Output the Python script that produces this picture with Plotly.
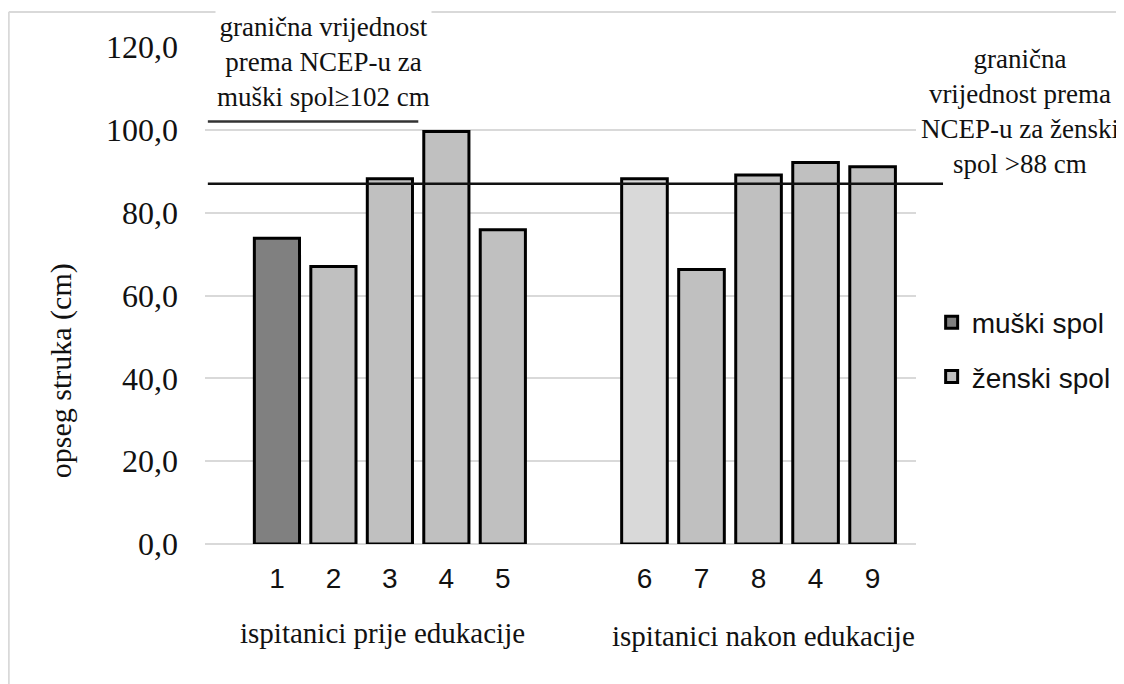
import plotly.graph_objects as go

# waist circumference (cm)
before_labels = ["1", "2", "3", "4", "5"]
before_values = [73.8, 67.0, 88.2, 99.6, 75.9]
before_sex = ["M", "F", "F", "F", "F"]

after_labels = ["6", "7", "8", "4", "9"]
after_values = [88.2, 66.3, 89.1, 92.1, 91.1]
after_sex = ["F", "F", "F", "F", "F"]

male_limit = 102
female_limit = 87

SERIF = "Liberation Serif, Times New Roman, serif"
SANS = "Liberation Sans, Arial, sans-serif"
MALE_COL = "#808080"
FEMALE_COL = "#C0C0C0"
GRID = "#D9D9D9"

fig = go.Figure()

bm = [(l, v) for l, v, s in zip(before_labels, before_values, before_sex) if s == "M"]
bf = [(l, v) for l, v, s in zip(before_labels, before_values, before_sex) if s == "F"]

fig.add_trace(go.Bar(
    x=[l for l, _ in bm], y=[v for _, v in bm], name="muški spol",
    legendgroup="m", marker=dict(color=MALE_COL, line=dict(color="black", width=3)),
    xaxis="x", yaxis="y"))
fig.add_trace(go.Bar(
    x=[l for l, _ in bf], y=[v for _, v in bf], name="ženski spol",
    legendgroup="f", marker=dict(color=FEMALE_COL, line=dict(color="black", width=3)),
    xaxis="x", yaxis="y"))
# first bar after education is printed in a lighter grey
after_cols = ["#D9D9D9"] + [FEMALE_COL] * (len(after_labels) - 1)
fig.add_trace(go.Bar(
    x=after_labels, y=after_values, name="ženski spol", legendgroup="f", showlegend=False,
    marker=dict(color=after_cols, line=dict(color="black", width=3)),
    xaxis="x2", yaxis="y"))

# threshold lines
fig.add_shape(type="line", xref="paper", yref="y", x0=0.004, x1=0.30,
              y0=male_limit, y1=male_limit, line=dict(color="#333333", width=2.5))
fig.add_shape(type="line", xref="paper", yref="y", x0=0.004, x1=1.038,
              y0=female_limit, y1=female_limit, line=dict(color="#111111", width=2.5))

# outer frame (top and left edges visible in the scan)
fig.add_shape(type="line", xref="paper", yref="paper", x0=-0.276, x1=1.35,
              y0=1.0705, y1=1.0705, line=dict(color=GRID, width=2))
fig.add_shape(type="line", xref="paper", yref="paper", x0=-0.276, x1=-0.276,
              y0=1.0705, y1=-0.35, line=dict(color=GRID, width=2))

fig.add_annotation(
    text="granična vrijednost<br>prema NCEP-u za<br>muški spol≥102 cm",
    xref="paper", yref="paper", x=0.166, y=0.97, xanchor="center", yanchor="middle",
    showarrow=False, bgcolor="white", borderpad=1,
    font=dict(family=SERIF, size=27, color="#111111"))
fig.add_annotation(
    text="granična<br>vrijednost prema<br>NCEP-u za ženski<br>spol >88 cm",
    xref="paper", yref="paper", x=1.146, y=0.871, xanchor="center", yanchor="middle",
    showarrow=False, font=dict(family=SERIF, size=27, color="#111111"))

fig.add_annotation(
    text="ispitanici prije edukacije", xref="paper", yref="paper", x=0.25, y=-0.18,
    xanchor="center", yanchor="middle", showarrow=False,
    font=dict(family=SERIF, size=29, color="#111111"))
fig.add_annotation(
    text="ispitanici nakon edukacije", xref="paper", yref="paper", x=0.785, y=-0.186,
    xanchor="center", yanchor="middle", showarrow=False,
    font=dict(family=SERIF, size=29, color="#111111"))
fig.add_annotation(
    text="opseg struka (cm)", xref="paper", yref="paper", x=-0.203, y=0.349,
    xanchor="center", yanchor="middle", textangle=-90, showarrow=False,
    font=dict(family=SERIF, size=30, color="#111111"))

xtick_font = dict(family="Liberation Sans Narrow, " + SANS, size=28, color="#111111")

fig.update_layout(
    width=1124, height=684,
    margin=dict(l=197, r=216, t=39, b=148, autoexpand=False),
    paper_bgcolor="white", plot_bgcolor="white",
    separators=",.",
    barmode="overlay", bargap=0.2,
    xaxis=dict(domain=[0, 0.518], type="category", categoryorder="array",
               categoryarray=before_labels, range=[-1.274, 5.248],
               showgrid=False, showline=False, zeroline=False,
               ticks="", ticklabelstandoff=15, tickfont=xtick_font, anchor="y"),
    xaxis2=dict(domain=[0.518, 1], type="category", categoryorder="array",
                categoryarray=after_labels, range=[-1.248, 4.761],
                showgrid=False, showline=False, zeroline=False,
                ticks="", ticklabelstandoff=15, tickfont=xtick_font, anchor="y"),
    yaxis=dict(range=[0, 120], dtick=20, tickformat=".1f",
               showgrid=True, gridcolor=GRID, gridwidth=2,
               zeroline=True, zerolinecolor=GRID, zerolinewidth=2,
               showline=False, ticks="", ticklabelstandoff=26,
               tickfont=dict(family=SERIF, size=32, color="#111111")),
    legend=dict(x=1.022, y=0.496, xanchor="left", yanchor="top",
                traceorder="grouped", tracegroupgap=15,
                font=dict(family=SANS, size=28, color="#111111"),
                bgcolor="rgba(0,0,0,0)"),
    showlegend=True,
)

fig.write_html("out.html")
